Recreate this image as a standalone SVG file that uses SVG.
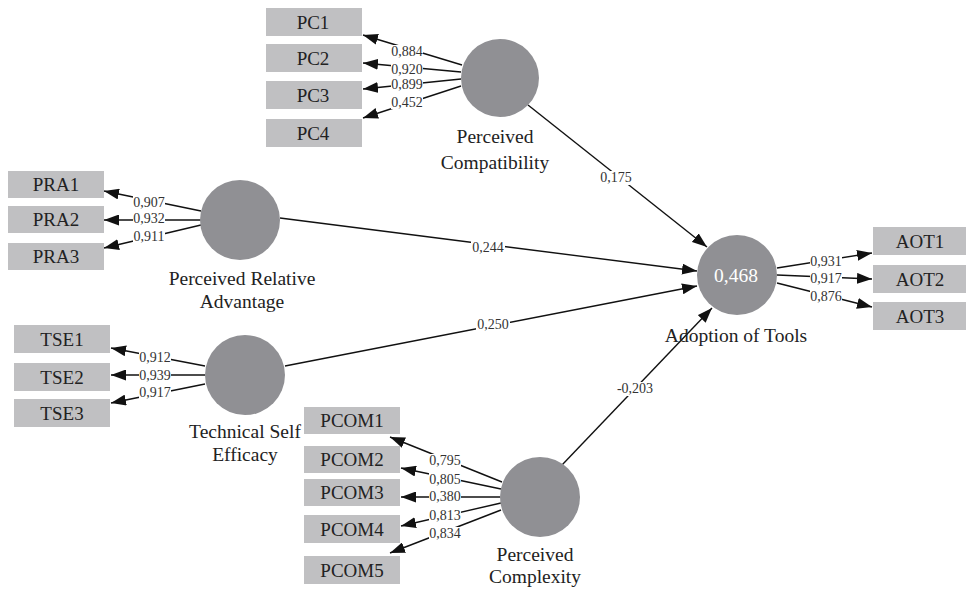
<svg xmlns="http://www.w3.org/2000/svg" width="966" height="591" viewBox="0 0 966 591">
<defs>
<marker id="ah" markerWidth="15" markerHeight="11" refX="15" refY="5.5" orient="auto" markerUnits="userSpaceOnUse"><path d="M0,0 L15,5.5 L0,11 z" fill="#111"/></marker>
<style>
.box{fill:#c0c0c2}
.lv{fill:#909094}
.bt{font-family:"Liberation Serif",serif;font-size:19px;fill:#222;text-anchor:middle}
.nt{font-family:"Liberation Serif",serif;font-size:19.5px;fill:#222;text-anchor:middle}
.r2{font-family:"Liberation Serif",serif;font-size:19.5px;fill:#fff;text-anchor:middle}
.ln{stroke:#111;stroke-width:1.4;fill:none;marker-end:url(#ah)}
.lb{font-family:"Liberation Serif",serif;font-size:14px;fill:#333;text-anchor:middle}
.bg{fill:#fff}
</style>
</defs>
<rect width="966" height="591" fill="#fff"/>

<g id="connectors">
<line class="ln" x1="462" y1="65" x2="363" y2="35"/>
<line class="ln" x1="461" y1="72" x2="363" y2="63"/>
<line class="ln" x1="461" y1="79" x2="363" y2="89"/>
<line class="ln" x1="461" y1="86" x2="363" y2="118"/>
<line class="ln" x1="201" y1="211" x2="104" y2="191"/>
<line class="ln" x1="201" y1="220" x2="104" y2="220"/>
<line class="ln" x1="201" y1="225" x2="104" y2="248"/>
<line class="ln" x1="205" y1="366" x2="111" y2="348"/>
<line class="ln" x1="205" y1="375" x2="111" y2="375"/>
<line class="ln" x1="205" y1="384" x2="111" y2="403"/>
<line class="ln" x1="502" y1="482" x2="390" y2="437"/>
<line class="ln" x1="501" y1="489" x2="401" y2="468"/>
<line class="ln" x1="500" y1="497" x2="401" y2="497"/>
<line class="ln" x1="501" y1="503" x2="401" y2="526"/>
<line class="ln" x1="501" y1="510" x2="390" y2="553"/>
<line class="ln" x1="777" y1="268" x2="872" y2="253"/>
<line class="ln" x1="777" y1="275" x2="872" y2="279"/>
<line class="ln" x1="777" y1="283" x2="872" y2="307"/>
<line class="ln" x1="528" y1="105" x2="707" y2="247"/>
<line class="ln" x1="280" y1="218" x2="697" y2="271"/>
<line class="ln" x1="285" y1="366" x2="697" y2="286"/>
<line class="ln" x1="562" y1="465" x2="712" y2="308"/>
<g class="bg">
<rect x="391" y="45" width="32" height="13"/>
<rect x="391" y="63" width="32" height="13"/>
<rect x="391" y="78" width="32" height="13"/>
<rect x="391" y="96" width="32" height="13"/>
<rect x="133" y="196" width="32" height="13"/>
<rect x="133" y="212" width="32" height="13"/>
<rect x="133" y="230" width="32" height="13"/>
<rect x="139" y="351" width="32" height="13"/>
<rect x="139" y="369" width="32" height="13"/>
<rect x="139" y="386" width="32" height="13"/>
<rect x="429" y="454" width="32" height="13"/>
<rect x="429" y="473" width="32" height="13"/>
<rect x="429" y="490" width="32" height="13"/>
<rect x="429" y="509" width="32" height="13"/>
<rect x="429" y="527" width="32" height="13"/>
<rect x="810" y="255" width="32" height="13"/>
<rect x="810" y="272" width="32" height="13"/>
<rect x="810" y="290" width="32" height="13"/>
<rect x="599" y="171" width="34" height="14"/>
<rect x="471" y="241" width="34" height="14"/>
<rect x="476" y="318" width="34" height="14"/>
<rect x="616" y="382" width="38" height="14"/>
</g>
<text class="lb" x="407" y="56">0,884</text>
<text class="lb" x="407" y="74">0,920</text>
<text class="lb" x="407" y="89">0,899</text>
<text class="lb" x="407" y="107">0,452</text>
<text class="lb" x="149" y="207">0,907</text>
<text class="lb" x="149" y="223">0,932</text>
<text class="lb" x="149" y="241">0,911</text>
<text class="lb" x="155" y="362">0,912</text>
<text class="lb" x="155" y="380">0,939</text>
<text class="lb" x="155" y="397">0,917</text>
<text class="lb" x="445" y="465">0,795</text>
<text class="lb" x="445" y="484">0,805</text>
<text class="lb" x="445" y="501">0,380</text>
<text class="lb" x="445" y="520">0,813</text>
<text class="lb" x="445" y="538">0,834</text>
<text class="lb" x="826" y="266">0,931</text>
<text class="lb" x="826" y="283">0,917</text>
<text class="lb" x="826" y="301">0,876</text>
<text class="lb" x="616" y="182">0,175</text>
<text class="lb" x="488" y="252">0,244</text>
<text class="lb" x="493" y="329">0,250</text>
<text class="lb" x="635" y="393">-0,203</text>
</g>

<g id="PC1"><rect class="box" x="266" y="8" width="96" height="28"/><text class="bt" x="313" y="29">PC1</text></g>
<g id="PC2"><rect class="box" x="266" y="44" width="96" height="28"/><text class="bt" x="313" y="65">PC2</text></g>
<g id="PC3"><rect class="box" x="266" y="81" width="96" height="28"/><text class="bt" x="313" y="102">PC3</text></g>
<g id="PC4"><rect class="box" x="266" y="119" width="96" height="28"/><text class="bt" x="313" y="140">PC4</text></g>

<g id="PRA1"><rect class="box" x="8" y="171" width="96" height="27"/><text class="bt" x="56" y="191">PRA1</text></g>
<g id="PRA2"><rect class="box" x="8" y="206" width="96" height="27"/><text class="bt" x="56" y="226">PRA2</text></g>
<g id="PRA3"><rect class="box" x="8" y="243" width="96" height="27"/><text class="bt" x="56" y="263">PRA3</text></g>

<g id="TSE1"><rect class="box" x="14" y="325" width="96" height="28"/><text class="bt" x="62" y="346">TSE1</text></g>
<g id="TSE2"><rect class="box" x="14" y="363" width="96" height="28"/><text class="bt" x="62" y="384">TSE2</text></g>
<g id="TSE3"><rect class="box" x="14" y="399" width="96" height="28"/><text class="bt" x="62" y="420">TSE3</text></g>

<g id="PCOM1"><rect class="box" x="304" y="407" width="96" height="27"/><text class="bt" x="352" y="427">PCOM1</text></g>
<g id="PCOM2"><rect class="box" x="304" y="446" width="96" height="27"/><text class="bt" x="352" y="466">PCOM2</text></g>
<g id="PCOM3"><rect class="box" x="304" y="479" width="96" height="27"/><text class="bt" x="352" y="499">PCOM3</text></g>
<g id="PCOM4"><rect class="box" x="304" y="515" width="96" height="28"/><text class="bt" x="352" y="536">PCOM4</text></g>
<g id="PCOM5"><rect class="box" x="304" y="556" width="96" height="28"/><text class="bt" x="352" y="577">PCOM5</text></g>

<g id="AOT1"><rect class="box" x="873" y="227" width="96" height="28"/><text class="bt" x="920" y="248">AOT1</text></g>
<g id="AOT2"><rect class="box" x="873" y="265" width="96" height="28"/><text class="bt" x="920" y="286">AOT2</text></g>
<g id="AOT3"><rect class="box" x="873" y="302" width="96" height="28"/><text class="bt" x="920" y="323">AOT3</text></g>

<g id="PerceivedCompatibility"><circle class="lv" cx="500" cy="78" r="39"/><text class="nt" x="495" y="143">Perceived</text><text class="nt" x="495" y="169">Compatibility</text></g>
<g id="PerceivedRelativeAdvantage"><circle class="lv" cx="240" cy="220" r="40"/><text class="nt" x="242" y="285">Perceived Relative</text><text class="nt" x="242" y="308">Advantage</text></g>
<g id="TechnicalSelfEfficacy"><circle class="lv" cx="245" cy="375" r="40"/><text class="nt" x="245" y="438">Technical Self</text><text class="nt" x="245" y="461">Efficacy</text></g>
<g id="PerceivedComplexity"><circle class="lv" cx="540" cy="497" r="40"/><text class="nt" x="535" y="561">Perceived</text><text class="nt" x="535" y="583">Complexity</text></g>
<g id="AdoptionOfTools"><circle class="lv" cx="737" cy="275" r="40"/><text class="r2" x="736" y="282">0,468</text><text class="nt" x="736" y="342">Adoption of Tools</text></g>
</svg>
